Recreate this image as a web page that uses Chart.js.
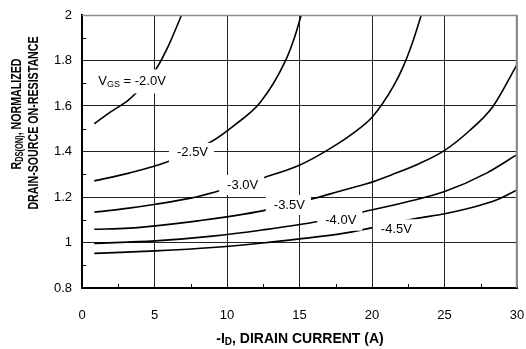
<!DOCTYPE html>
<html>
<head>
<meta charset="utf-8">
<script src="https://cdn.jsdelivr.net/npm/chart.js@4.4.1/dist/chart.umd.min.js"></script>
<style>
  html, body { margin: 0; padding: 0; background: #fff; }
</style>
</head>
<body>
<canvas id="rdsChart" width="526" height="349"></canvas>
<script>
// axis tick labels
const xTickLabels = ['0', '5', '10', '15', '20', '25', '30'];
const yTickLabels = ['0.8', '1', '1.2', '1.4', '1.6', '1.8', '2'];

// one curve per gate voltage, -ID (A) vs normalized RDS(on)
const vgsLabels = ['-2.0V', '-2.5V', '-3.0V', '-3.5V', '-4.0V', '-4.5V'];

const id20 = [0.85, 2, 3.24, 4.2, 5.15, 6.0, 6.87];
const rds20 = [1.522, 1.575, 1.628, 1.69, 1.767, 1.87, 2.0];

const id25 = [0.85, 3.24, 5.95, 8.94, 10.5, 12.3, 14.07, 14.7, 15.12];
const rds25 = [1.271, 1.305, 1.356, 1.444, 1.515, 1.616, 1.804, 1.91, 2.0];

const id30 = [0.85, 3.24, 5.06, 7.5, 9.29, 11, 12.62, 15.03, 16.87, 18.71, 20.05, 21.47, 22.16, 22.8, 23.4];
const rds30 = [1.133, 1.151, 1.168, 1.195, 1.224, 1.255, 1.287, 1.341, 1.404, 1.481, 1.554, 1.686, 1.774, 1.88, 2.0];

const id35 = [0.85, 3.24, 5.06, 8, 12.43, 15.93, 18, 19.63, 21.45, 23.2, 25.01, 26.7, 28.34, 30];
const rds35 = [1.058, 1.063, 1.073, 1.095, 1.139, 1.192, 1.23, 1.258, 1.3, 1.345, 1.405, 1.49, 1.598, 1.782];

const id40 = [0.85, 5.06, 9, 12.43, 16.28, 19.5, 22.5, 25.01, 27.9, 30];
const rds40 = [0.996, 1.007, 1.028, 1.055, 1.092, 1.136, 1.18, 1.224, 1.305, 1.386];

const id45 = [0.85, 5.06, 9, 12.45, 15, 18, 23.17, 25.01, 28.57, 30];
const rds45 = [0.952, 0.963, 0.978, 0.998, 1.016, 1.04, 1.107, 1.126, 1.187, 1.231];

const curves = [
  [id20, rds20], [id25, rds25], [id30, rds30],
  [id35, rds35], [id40, rds40], [id45, rds45],
];

const FONT = '"Liberation Sans", Arial, sans-serif';

// where each curve label sits, in data units (centre of the text)
const labelSpots = [[3.45, 1.708], [7.62, 1.394], [11.08, 1.253], [14.3, 1.165], [17.85, 1.096], [21.68, 1.058]];

// draws runs of text where some parts are subscripts, centred on x
function drawRuns(ctx, runs, x, y, size, subSize, weight, subDrop) {
  let total = 0;
  runs.forEach((r) => {
    ctx.font = `${weight} ${r.sub ? subSize : size}px ${FONT}`;
    r.w = ctx.measureText(r.t).width;
    total += r.w;
  });
  let cx = x - total / 2;
  ctx.textAlign = 'left';
  ctx.textBaseline = 'middle';
  runs.forEach((r) => {
    ctx.font = `${weight} ${r.sub ? subSize : size}px ${FONT}`;
    ctx.fillText(r.t, cx, r.sub ? y + (subDrop || 3) : y);
    cx += r.w;
  });
  return total;
}

const decorPlugin = {
  id: 'decor',
  afterDatasetsDraw(chart) {
    const { ctx, chartArea, scales } = chart;
    const xs = scales.x;
    const ys = scales.y;
    ctx.save();

    // grey top/right frame
    ctx.strokeStyle = '#8c8c8c';
    ctx.lineWidth = 1.5;
    ctx.beginPath();
    ctx.moveTo(chartArea.left, chartArea.top + 0.5);
    ctx.lineTo(chartArea.right - 0.5, chartArea.top + 0.5);
    ctx.lineTo(chartArea.right - 0.5, chartArea.bottom);
    ctx.stroke();

    // minor ticks on bottom and left axes
    ctx.strokeStyle = '#000';
    ctx.lineWidth = 1;
    ctx.beginPath();
    for (let v = 2.5; v < 30; v += 5) {
      const px = Math.round(xs.getPixelForValue(v)) + 0.5;
      ctx.moveTo(px, chartArea.bottom);
      ctx.lineTo(px, chartArea.bottom - 4);
    }
    for (let v = 0.9; v < 2; v += 0.2) {
      const py = Math.round(ys.getPixelForValue(v)) + 0.5;
      ctx.moveTo(chartArea.left, py);
      ctx.lineTo(chartArea.left + 4, py);
    }
    ctx.stroke();

    // curve labels on white boxes
    labelSpots.forEach((spot, i) => {
      const cx = xs.getPixelForValue(spot[0]);
      const cy = ys.getPixelForValue(spot[1]);
      const runs = i === 0
        ? [{ t: 'V' }, { t: 'GS', sub: true }, { t: ' = ' + vgsLabels[0] }]
        : [{ t: vgsLabels[i] }];
      let w = 0;
      runs.forEach((r) => {
        ctx.font = `${r.sub ? 9 : 13}px ${FONT}`;
        w += ctx.measureText(r.t).width;
      });
      const boxH = i === 0 ? 24 : 20;
      ctx.fillStyle = '#fff';
      ctx.fillRect(cx - w / 2 - 8, cy - boxH / 2, w + 14, boxH);
      ctx.fillStyle = '#000';
      drawRuns(ctx, runs, cx, cy, 13, 9, 'normal');
    });

    // axis titles
    drawRuns(ctx, [{ t: '-I' }, { t: 'D', sub: true }, { t: ', DIRAIN CURRENT (A)' }], 300, 339, 14, 10, 'bold', 3);

    // the y title is set in a condensed bold face
    ctx.save();
    ctx.translate(17, 114);
    ctx.rotate(-Math.PI / 2);
    ctx.scale(0.71, 1);
    drawRuns(ctx, [{ t: 'R' }, { t: 'DS(ON)', sub: true }, { t: ', NORMALIZED' }], 0, 0, 15, 10.5, 'bold', 3.5);
    ctx.restore();
    ctx.save();
    ctx.translate(33.5, 123);
    ctx.rotate(-Math.PI / 2);
    ctx.scale(0.71, 1);
    drawRuns(ctx, [{ t: 'DRAIN-SOURCE ON-RESISTANCE' }], 0, 0, 15, 10.5, 'bold');
    ctx.restore();

    ctx.restore();
  },
};

const ctx = document.getElementById('rdsChart').getContext('2d');

const chart = new Chart(ctx, {
  type: 'scatter',
  data: {
    datasets: curves.map((c, index) => ({
      label: vgsLabels[index],
      data: c[0].map((x, k) => ({ x: x, y: c[1][k] })),
      showLine: true,
      borderColor: '#000',
      borderWidth: 1.6,
      pointRadius: 0,
      cubicInterpolationMode: 'monotone',
    })),
  },
  options: {
    responsive: false,
    animation: false,
    devicePixelRatio: 1,
    layout: {
      padding: { top: 15, right: 9, left: 0, bottom: 0 },
    },
    plugins: {
      legend: { display: false },
      tooltip: { enabled: false },
    },
    scales: {
      x: {
        type: 'linear',
        min: 0,
        max: 30,
        afterFit: (scale) => {
          scale.height = 61;
          scale.paddingLeft = 0;
          scale.paddingRight = 0;
        },
        ticks: {
          stepSize: 5,
          padding: 20,
          color: '#000',
          font: { family: FONT, size: 13 },
          callback: (value, index) => xTickLabels[index],
        },
        grid: {
          color: (c) => (c.tick && c.tick.value === 30 ? '#8c8c8c' : '#222'),
          lineWidth: 1,
          drawTicks: false,
        },
        border: { display: true, color: '#000', width: 2 },
      },
      y: {
        min: 0.8,
        max: 2,
        afterFit: (scale) => {
          scale.width = 82;
          scale.paddingTop = 0;
          scale.paddingBottom = 0;
        },
        ticks: {
          stepSize: 0.2,
          padding: 10,
          color: '#000',
          font: { family: FONT, size: 13 },
          callback: (value, index) => yTickLabels[index],
        },
        grid: {
          color: (c) => (c.tick && Math.abs(c.tick.value - 2) < 1e-6 ? '#8c8c8c' : '#222'),
          lineWidth: 1,
          drawTicks: false,
        },
        border: { display: true, color: '#000', width: 2 },
      },
    },
  },
  plugins: [decorPlugin],
});
</script>
</body>
</html>
